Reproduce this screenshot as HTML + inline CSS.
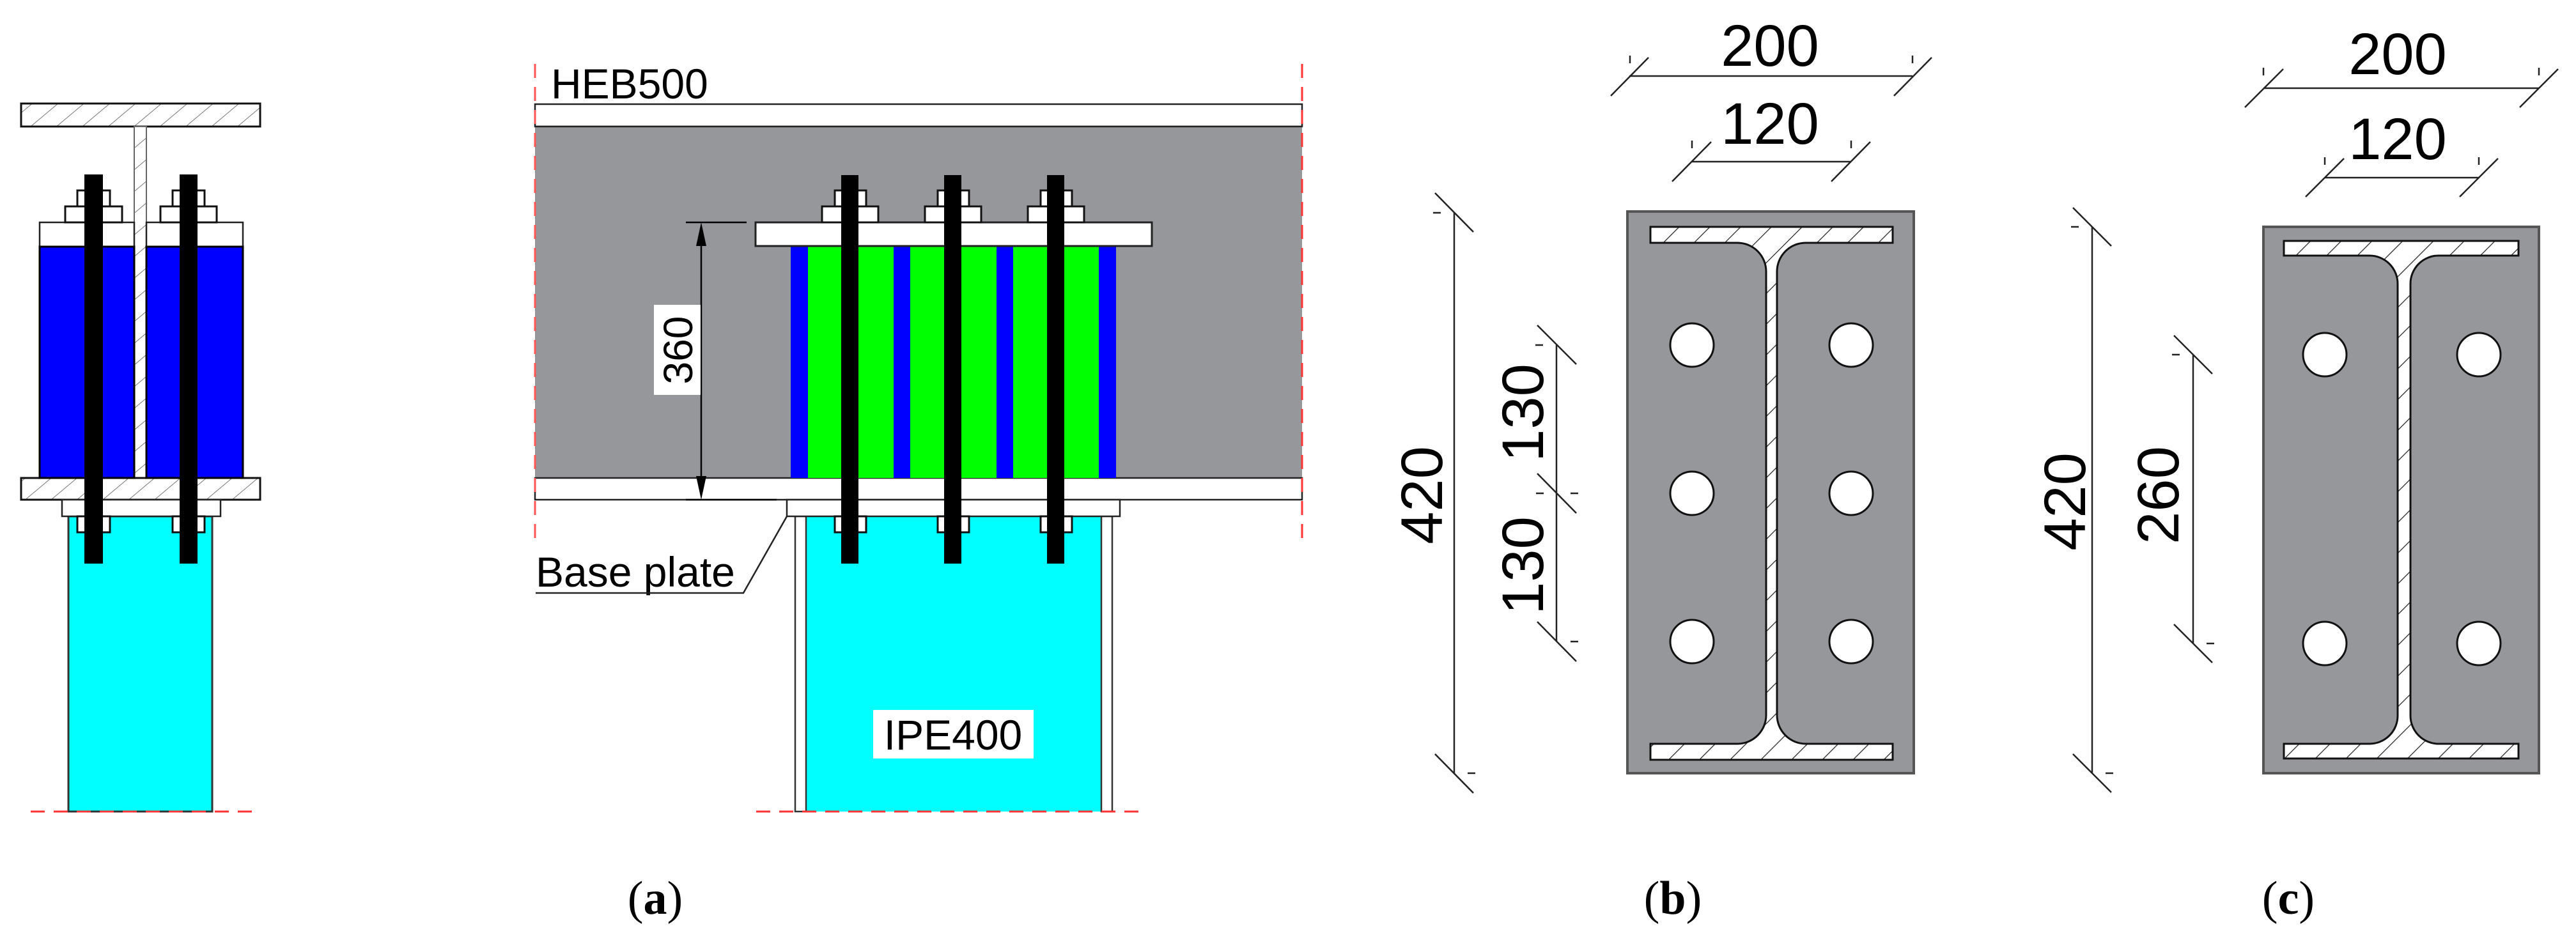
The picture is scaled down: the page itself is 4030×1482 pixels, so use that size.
<!DOCTYPE html>
<html><head><meta charset="utf-8"><style>html,body{margin:0;padding:0;background:#fff}svg{display:block}</style></head>
<body>
<svg width="4030" height="1482" viewBox="0 0 4030 1482" xmlns="http://www.w3.org/2000/svg" font-family="Liberation Sans, Arial, sans-serif">
<defs>
<pattern id="h1" width="26" height="26" patternUnits="userSpaceOnUse" patternTransform="rotate(50)">
<rect width="26" height="26" fill="#fff"/><line x1="0" y1="0" x2="0" y2="26" stroke="#777" stroke-width="2"/></pattern>
<pattern id="h2" width="34" height="34" patternUnits="userSpaceOnUse" patternTransform="rotate(45)">
<rect width="34" height="34" fill="#fff"/><line x1="0" y1="0" x2="0" y2="34" stroke="#222" stroke-width="2.5"/></pattern>
</defs>

<!-- ========== LEFT FIGURE ========== -->
<rect x="33" y="162" width="374" height="36" fill="url(#h1)" stroke="#111" stroke-width="3"/>
<rect x="210" y="198" width="19" height="550" fill="url(#h1)" stroke="#666" stroke-width="2"/>
<rect x="33" y="748" width="374" height="34" fill="url(#h1)" stroke="#111" stroke-width="3"/>
<rect x="62" y="348" width="148" height="38" fill="#fff" stroke="#222" stroke-width="2.5"/>
<rect x="229" y="348" width="151" height="38" fill="#fff" stroke="#222" stroke-width="2.5"/>
<rect x="62" y="386" width="148" height="362" fill="#0000ff" stroke="#000" stroke-width="3"/>
<rect x="229" y="386" width="151" height="362" fill="#0000ff" stroke="#000" stroke-width="3"/>
<rect x="107" y="808" width="225" height="462" fill="#00ffff" stroke="#333" stroke-width="3"/>
<rect x="97" y="782" width="248" height="26" fill="#fff" stroke="#222" stroke-width="2.5"/>
<g fill="#fff" stroke="#111" stroke-width="3">
<rect x="102" y="323" width="89" height="25"/><rect x="121" y="298" width="51" height="25"/>
<rect x="251" y="323" width="88" height="25"/><rect x="270" y="298" width="50" height="25"/>
<rect x="121" y="808" width="51" height="25"/><rect x="270" y="808" width="50" height="25"/>
</g>
<rect x="132" y="273" width="29" height="609" fill="#000"/>
<rect x="281" y="273" width="28" height="609" fill="#000"/>
<line x1="48" y1="1270" x2="405" y2="1270" stroke="#f33" stroke-width="3" stroke-dasharray="22,14"/>

<!-- ========== MIDDLE FIGURE ========== -->
<text x="862" y="154" font-size="66">HEB500</text>
<rect x="837" y="163" width="1200" height="35" fill="#fff" stroke="#222" stroke-width="2.5"/>
<rect x="837" y="198" width="1200" height="550" fill="#96979b"/>
<line x1="837" y1="198" x2="2037" y2="198" stroke="#222" stroke-width="2.5"/>
<rect x="837" y="748" width="1200" height="34" fill="#fff" stroke="#222" stroke-width="2.5"/>
<line x1="837" y1="100" x2="837" y2="842" stroke="#f55" stroke-width="3" stroke-dasharray="22,14"/>
<line x1="2037" y1="100" x2="2037" y2="842" stroke="#f33" stroke-width="3" stroke-dasharray="22,14"/>
<rect x="1237" y="385" width="509" height="363" fill="#00ff00"/>
<g fill="#0000ff"><rect x="1237" y="385" width="27" height="363"/><rect x="1398" y="385" width="26" height="363"/><rect x="1559" y="385" width="26" height="363"/><rect x="1719" y="385" width="27" height="363"/></g>
<rect x="1182" y="348" width="620" height="37" fill="#fff" stroke="#222" stroke-width="3"/>
<rect x="1244" y="808" width="496" height="462" fill="#00ffff"/>
<rect x="1244" y="808" width="17" height="462" fill="#fff" stroke="#333" stroke-width="2.5"/>
<rect x="1723" y="808" width="17" height="462" fill="#fff" stroke="#333" stroke-width="2.5"/>
<rect x="1231" y="782" width="521" height="26" fill="#fff" stroke="#222" stroke-width="2.5"/>
<line x1="1183" y1="1270" x2="1790" y2="1270" stroke="#f33" stroke-width="3" stroke-dasharray="22,14"/>
<g fill="#fff" stroke="#111" stroke-width="3">
<rect x="1286" y="323" width="88" height="25"/><rect x="1306" y="298" width="49" height="25"/>
<rect x="1447" y="323" width="88" height="25"/><rect x="1467" y="298" width="49" height="25"/>
<rect x="1608" y="323" width="88" height="25"/><rect x="1628" y="298" width="49" height="25"/>
<rect x="1306" y="808" width="49" height="25"/><rect x="1467" y="808" width="49" height="25"/><rect x="1628" y="808" width="49" height="25"/>
</g>
<rect x="1316" y="274" width="27" height="608" fill="#000"/>
<rect x="1477" y="274" width="27" height="608" fill="#000"/>
<rect x="1638" y="274" width="27" height="608" fill="#000"/>
<g stroke="#000" stroke-width="2.5">
<line x1="1073" y1="348" x2="1168" y2="348"/><line x1="1073" y1="782" x2="1215" y2="782"/>
<line x1="1097" y1="360" x2="1097" y2="770"/></g>
<polygon points="1097,348 1089,385 1105,385" fill="#000"/>
<polygon points="1097,782 1089,745 1105,745" fill="#000"/>
<rect x="1023" y="477" width="73" height="141" fill="#fff"/>
<text transform="translate(1083,548) rotate(-90)" font-size="64" text-anchor="middle">360</text>
<text x="838" y="918" font-size="66">Base plate</text>
<polyline points="838,928 1163,928 1231,808" fill="none" stroke="#222" stroke-width="2.5"/>
<rect x="1366" y="1111" width="251" height="76" fill="#fff"/>
<text x="1491" y="1173" font-size="66" text-anchor="middle">IPE400</text>

<!-- ========== SECTION B ========== -->
<rect x="2546" y="331" width="448" height="879" fill="#96979b" stroke="#555" stroke-width="4"/>
<path d="M2582,355 H2961 V380 H2825 A45,45 0 0 0 2780,425 V1119 A45,45 0 0 0 2825,1164 H2961 V1189 H2582 V1164 H2718 A45,45 0 0 0 2763,1119 V425 A45,45 0 0 0 2718,380 H2582 Z" fill="url(#h2)" stroke="#111" stroke-width="3"/>
<g fill="#fff" stroke="#111" stroke-width="3">
<circle cx="2647" cy="540" r="34"/><circle cx="2896" cy="540" r="34"/>
<circle cx="2647" cy="772" r="34"/><circle cx="2896" cy="772" r="34"/>
<circle cx="2647" cy="1004" r="34"/><circle cx="2896" cy="1004" r="34"/>
</g>
<g stroke="#222" stroke-width="2.5" fill="none">
<line x1="2549" y1="119" x2="2992" y2="119"/>
<line x1="2520" y1="150" x2="2579" y2="90"/><line x1="2963" y1="150" x2="3022" y2="90"/>
<line x1="2550" y1="87" x2="2550" y2="99"/><line x1="2992" y1="87" x2="2992" y2="99"/>
<line x1="2647" y1="253" x2="2896" y2="253"/>
<line x1="2616" y1="284" x2="2677" y2="222"/><line x1="2865" y1="284" x2="2926" y2="222"/>
<line x1="2647" y1="220" x2="2647" y2="232"/><line x1="2896" y1="220" x2="2896" y2="232"/>
<line x1="2275" y1="333" x2="2275" y2="1210"/>
<line x1="2245" y1="302" x2="2305" y2="363"/><line x1="2245" y1="1180" x2="2305" y2="1241"/>
<line x1="2242" y1="333" x2="2254" y2="333"/><line x1="2296" y1="1210" x2="2308" y2="1210"/>
<line x1="2435" y1="540" x2="2435" y2="1004"/>
<line x1="2405" y1="509" x2="2466" y2="570"/><line x1="2405" y1="741" x2="2466" y2="803"/><line x1="2405" y1="973" x2="2466" y2="1035"/>
<line x1="2402" y1="540" x2="2414" y2="540"/><line x1="2403" y1="772" x2="2415" y2="772"/><line x1="2457" y1="772" x2="2469" y2="772"/><line x1="2457" y1="1004" x2="2469" y2="1004"/>
</g>
<g font-size="92" text-anchor="middle">
<text x="2769" y="103">200</text>
<text x="2769" y="225">120</text>
<text transform="translate(2256,775) rotate(-90)">420</text>
<text transform="translate(2414,646) rotate(-90)">130</text>
<text transform="translate(2414,885) rotate(-90)">130</text>
</g>

<!-- ========== SECTION C ========== -->
<rect x="3541" y="355" width="431" height="855" fill="#96979b" stroke="#555" stroke-width="4"/>
<path d="M3573,377 H3940 V400 H3815 A44,44 0 0 0 3771,444 V1120 A44,44 0 0 0 3815,1164 H3940 V1187 H3573 V1164 H3707 A44,44 0 0 0 3751,1120 V444 A44,44 0 0 0 3707,400 H3573 Z" fill="url(#h2)" stroke="#111" stroke-width="3"/>
<g fill="#fff" stroke="#111" stroke-width="3">
<circle cx="3637" cy="555" r="34"/><circle cx="3878" cy="555" r="34"/>
<circle cx="3637" cy="1007" r="34"/><circle cx="3878" cy="1007" r="34"/>
</g>
<g stroke="#222" stroke-width="2.5" fill="none">
<line x1="3541" y1="138" x2="3972" y2="138"/>
<line x1="3512" y1="168" x2="3572" y2="108"/><line x1="3942" y1="168" x2="4002" y2="108"/>
<line x1="3541" y1="106" x2="3541" y2="118"/><line x1="3972" y1="106" x2="3972" y2="118"/>
<line x1="3637" y1="278" x2="3878" y2="278"/>
<line x1="3607" y1="308" x2="3667" y2="248"/><line x1="3848" y1="308" x2="3908" y2="248"/>
<line x1="3637" y1="246" x2="3637" y2="258"/><line x1="3878" y1="246" x2="3878" y2="258"/>
<line x1="3273" y1="355" x2="3273" y2="1210"/>
<line x1="3243" y1="325" x2="3303" y2="385"/><line x1="3243" y1="1180" x2="3303" y2="1240"/>
<line x1="3240" y1="355" x2="3252" y2="355"/><line x1="3294" y1="1210" x2="3306" y2="1210"/>
<line x1="3431" y1="555" x2="3431" y2="1007"/>
<line x1="3401" y1="525" x2="3461" y2="585"/><line x1="3401" y1="977" x2="3461" y2="1037"/>
<line x1="3398" y1="555" x2="3410" y2="555"/><line x1="3452" y1="1007" x2="3464" y2="1007"/>
</g>
<g font-size="92" text-anchor="middle">
<text x="3751" y="116">200</text>
<text x="3751" y="249">120</text>
<text transform="translate(3262,785) rotate(-90)">420</text>
<text transform="translate(3408,775) rotate(-90)">260</text>
</g>

<g font-family="Liberation Serif, Times New Roman, serif" font-size="74" text-anchor="middle">
<text x="1025" y="1430">(<tspan font-weight="bold">a</tspan>)</text>
<text x="2617" y="1430">(<tspan font-weight="bold">b</tspan>)</text>
<text x="3580" y="1430">(<tspan font-weight="bold">c</tspan>)</text>
</g>
</svg>
</body></html>
